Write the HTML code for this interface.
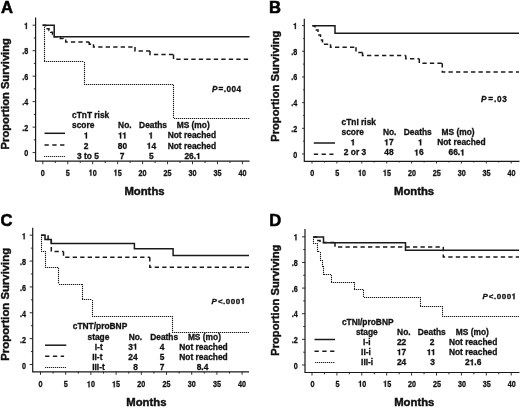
<!DOCTYPE html>
<html><head><meta charset="utf-8"><style>
html,body{margin:0;padding:0;background:#fff;}
svg{display:block;will-change:transform;}
text{font-family:"Liberation Sans", sans-serif;fill:#111;stroke:#111;stroke-width:0.3px;}
.one{fill:transparent;stroke:none;}
.g1{fill:#111;stroke:#111;stroke-width:0.3px;}
</style></head><body>
<svg width="520" height="408" viewBox="0 0 520 408">
<rect width="520" height="408" fill="#fff"/>
<text x="1" y="12.8" font-size="16.6" font-weight="bold" style="stroke-width:0.55px;fill:#000;stroke:#000">A</text>
<path d="M35.6,17.5V161.2H249.5" fill="none" stroke="#1a1a1a" stroke-width="1.2"/>
<path d="M32.6,152.6H35.6M33.8,139.86H35.6M32.6,127.12H35.6M33.8,114.38H35.6M32.6,101.64H35.6M33.8,88.9H35.6M32.6,76.16H35.6M33.8,63.42H35.6M32.6,50.68H35.6M33.8,37.94H35.6M32.6,25.2H35.6M42.8,161.2V164.2M55.27,161.2V163M67.75,161.2V164.2M80.22,161.2V163M92.7,161.2V164.2M105.17,161.2V163M117.65,161.2V164.2M130.12,161.2V163M142.6,161.2V164.2M155.07,161.2V163M167.55,161.2V164.2M180.02,161.2V163M192.5,161.2V164.2M204.98,161.2V163M217.45,161.2V164.2M229.93,161.2V163M242.4,161.2V164.2" fill="none" stroke="#1a1a1a" stroke-width="0.9"/>
<text transform="translate(28.2,156.3) scale(0.84,1)" font-size="8.6" font-weight="bold" text-anchor="end">0</text>
<text transform="translate(28.2,130.82) scale(0.84,1)" font-size="8.6" font-weight="bold" text-anchor="end">.2</text>
<text transform="translate(28.2,105.34) scale(0.84,1)" font-size="8.6" font-weight="bold" text-anchor="end">.4</text>
<text transform="translate(28.2,79.86) scale(0.84,1)" font-size="8.6" font-weight="bold" text-anchor="end">.6</text>
<text transform="translate(28.2,54.38) scale(0.84,1)" font-size="8.6" font-weight="bold" text-anchor="end">.8</text>
<text transform="translate(28.2,28.9) scale(0.84,1)" font-size="8.6" font-weight="bold" text-anchor="end"><tspan class="one">1</tspan></text>
<text transform="translate(42.8,175.7) scale(0.84,1)" font-size="8.6" font-weight="bold" text-anchor="middle">0</text>
<text transform="translate(67.75,175.7) scale(0.84,1)" font-size="8.6" font-weight="bold" text-anchor="middle">5</text>
<text transform="translate(92.7,175.7) scale(0.84,1)" font-size="8.6" font-weight="bold" text-anchor="middle"><tspan class="one">1</tspan>0</text>
<text transform="translate(117.65,175.7) scale(0.84,1)" font-size="8.6" font-weight="bold" text-anchor="middle"><tspan class="one">1</tspan>5</text>
<text transform="translate(142.6,175.7) scale(0.84,1)" font-size="8.6" font-weight="bold" text-anchor="middle">20</text>
<text transform="translate(167.55,175.7) scale(0.84,1)" font-size="8.6" font-weight="bold" text-anchor="middle">25</text>
<text transform="translate(192.5,175.7) scale(0.84,1)" font-size="8.6" font-weight="bold" text-anchor="middle">30</text>
<text transform="translate(217.45,175.7) scale(0.84,1)" font-size="8.6" font-weight="bold" text-anchor="middle">35</text>
<text transform="translate(242.4,175.7) scale(0.84,1)" font-size="8.6" font-weight="bold" text-anchor="middle">40</text>
<text x="144.5" y="194.6" font-size="11.3" font-weight="bold" text-anchor="middle" style="stroke-width:0.45px">Months</text>
<text transform="translate(9,93.75) rotate(-90)" font-size="11.2" font-weight="bold" text-anchor="middle" style="stroke-width:0.4px">Proportion Surviving</text>
<path d="M42.6,25.2H54.2V36.8H249.5V36.8" fill="none" stroke="#1a1a1a" stroke-width="1.5"/>
<path d="M42.6,25.2H45.5V27H47.2V28.7H49V30.5H50.7V32.3H52.5V34.5H54.2V36.8H57.5V37.7H60.3V38.5H63V40.2H65.7V41.9H89.2M89.2,41.9V44.3H93.5M93.5,44.3V47.1H135M135,47.1V51H150M150,51V54.6H173.5M173.5,54.6V59.3H250M250,59.3V59.3" fill="none" stroke="#1a1a1a" stroke-width="1.5" stroke-dasharray="4.3 3.2"/>
<path d="M44.5,25V44M44.5,44V62M44,61.5H84M84.5,62V85M84,84.5H174M173.5,85V118M174,118.5H250" fill="none" stroke="#c4c4c4" stroke-width="1"/>
<path d="M44.5,25V44M44.5,44V62M44,61.5H84M84.5,62V85M84,84.5H174M173.5,85V118M174,118.5H250" fill="none" stroke="#1a1a1a" stroke-width="1.1" stroke-dasharray="1 1"/>
<path d="M44.5,133.3H65" stroke="#1a1a1a" stroke-width="1.5"/>
<path d="M44.5,144.9H64.5" stroke="#1a1a1a" stroke-width="1.5" stroke-dasharray="4.3 3.5"/>
<path d="M44,156.5H65" stroke="#c4c4c4" stroke-width="1"/>
<path d="M44,156.5H65" stroke="#222" stroke-width="1.1" stroke-dasharray="1 1"/>
<text x="72" y="117.8" font-size="8.4" font-weight="bold" text-anchor="start">cTnT risk</text>
<text x="72" y="128.1" font-size="8.4" font-weight="bold" text-anchor="start">score</text>
<text x="118.1" y="128.1" font-size="8.4" font-weight="bold" text-anchor="start">No.</text>
<text x="139.1" y="128.1" font-size="8.4" font-weight="bold" text-anchor="start">Deaths</text>
<text x="176.7" y="128.1" font-size="8.4" font-weight="bold" text-anchor="start">MS (mo)</text>
<text x="86.2" y="138.4" font-size="8.4" font-weight="bold" text-anchor="middle"><tspan class="one">1</tspan></text>
<text x="122.5" y="138.4" font-size="8.4" font-weight="bold" text-anchor="middle"><tspan class="one">1</tspan><tspan class="one">1</tspan></text>
<text x="151" y="138.4" font-size="8.4" font-weight="bold" text-anchor="middle"><tspan class="one">1</tspan></text>
<text x="167.7" y="138.4" font-size="8.4" font-weight="bold" text-anchor="start">Not reached</text>
<text x="86.2" y="148.7" font-size="8.4" font-weight="bold" text-anchor="middle">2</text>
<text x="122.5" y="148.7" font-size="8.4" font-weight="bold" text-anchor="middle">80</text>
<text x="151.4" y="148.7" font-size="8.4" font-weight="bold" text-anchor="middle"><tspan class="one">1</tspan>4</text>
<text x="167.7" y="148.7" font-size="8.4" font-weight="bold" text-anchor="start">Not reached</text>
<text x="87.9" y="159" font-size="8.4" font-weight="bold" text-anchor="middle">3 to 5</text>
<text x="122.2" y="159" font-size="8.4" font-weight="bold" text-anchor="middle">7</text>
<text x="151.3" y="159" font-size="8.4" font-weight="bold" text-anchor="middle">5</text>
<text x="192.6" y="159" font-size="8.4" font-weight="bold" text-anchor="middle">26.<tspan class="one">1</tspan></text>
<text x="212.1" y="92.2" font-size="8.2" font-weight="bold" letter-spacing="0.45"><tspan font-style="italic">P</tspan><tspan dx="0.6">=.004</tspan></text>
<text x="268.9" y="13.2" font-size="16.6" font-weight="bold" style="stroke-width:0.55px;fill:#000;stroke:#000">B</text>
<path d="M304.3,18.7V161.3H519.5" fill="none" stroke="#1a1a1a" stroke-width="1.2"/>
<path d="M302.1,154H304.3M303.1,141.16H304.3M302.1,128.32H304.3M303.1,115.48H304.3M302.1,102.64H304.3M303.1,89.8H304.3M302.1,76.96H304.3M303.1,64.12H304.3M302.1,51.28H304.3M303.1,38.44H304.3M302.1,25.6H304.3M312,161.3V163.5M324.45,161.3V162.5M336.9,161.3V163.5M349.35,161.3V162.5M361.8,161.3V163.5M374.25,161.3V162.5M386.7,161.3V163.5M399.15,161.3V162.5M411.6,161.3V163.5M424.05,161.3V162.5M436.5,161.3V163.5M448.95,161.3V162.5M461.4,161.3V163.5M473.85,161.3V162.5M486.3,161.3V163.5M498.75,161.3V162.5M511.2,161.3V163.5" fill="none" stroke="#1a1a1a" stroke-width="0.9"/>
<text transform="translate(297.2,157.5) scale(0.84,1)" font-size="8.6" font-weight="bold" text-anchor="end">0</text>
<text transform="translate(297.2,131.82) scale(0.84,1)" font-size="8.6" font-weight="bold" text-anchor="end">.2</text>
<text transform="translate(297.2,106.14) scale(0.84,1)" font-size="8.6" font-weight="bold" text-anchor="end">.4</text>
<text transform="translate(297.2,80.46) scale(0.84,1)" font-size="8.6" font-weight="bold" text-anchor="end">.6</text>
<text transform="translate(297.2,54.78) scale(0.84,1)" font-size="8.6" font-weight="bold" text-anchor="end">.8</text>
<text transform="translate(297.2,29.1) scale(0.84,1)" font-size="8.6" font-weight="bold" text-anchor="end"><tspan class="one">1</tspan></text>
<text transform="translate(312.3,175.9) scale(0.84,1)" font-size="8.6" font-weight="bold" text-anchor="middle">0</text>
<text transform="translate(337.2,175.9) scale(0.84,1)" font-size="8.6" font-weight="bold" text-anchor="middle">5</text>
<text transform="translate(362.1,175.9) scale(0.84,1)" font-size="8.6" font-weight="bold" text-anchor="middle"><tspan class="one">1</tspan>0</text>
<text transform="translate(387,175.9) scale(0.84,1)" font-size="8.6" font-weight="bold" text-anchor="middle"><tspan class="one">1</tspan>5</text>
<text transform="translate(411.9,175.9) scale(0.84,1)" font-size="8.6" font-weight="bold" text-anchor="middle">20</text>
<text transform="translate(436.8,175.9) scale(0.84,1)" font-size="8.6" font-weight="bold" text-anchor="middle">25</text>
<text transform="translate(461.7,175.9) scale(0.84,1)" font-size="8.6" font-weight="bold" text-anchor="middle">30</text>
<text transform="translate(486.6,175.9) scale(0.84,1)" font-size="8.6" font-weight="bold" text-anchor="middle">35</text>
<text transform="translate(511.5,175.9) scale(0.84,1)" font-size="8.6" font-weight="bold" text-anchor="middle">40</text>
<text x="414.1" y="194.5" font-size="11.3" font-weight="bold" text-anchor="middle" style="stroke-width:0.45px">Months</text>
<text transform="translate(279,86.2) rotate(-90)" font-size="11.2" font-weight="bold" text-anchor="middle" style="stroke-width:0.4px">Proportion Surviving</text>
<path d="M312.3,25.7H335V33.3H519V33.3" fill="none" stroke="#1a1a1a" stroke-width="1.5"/>
<path d="M312.5,25.7H315V30H318V35H320.5V40H322.5V44.3H330.5M330.5,44.3V47.3H356M356,47.3V52.5H362.5M362.5,52.5V55.5H405.8M405.8,55.5V58.8H419.3M419.3,58.8V63.2H442.3M442.3,63.2V72H519M519,72V72" fill="none" stroke="#1a1a1a" stroke-width="1.5" stroke-dasharray="4.3 3.2"/>
<path d="M313.8,143H335" stroke="#1a1a1a" stroke-width="1.5"/>
<path d="M313.8,154.3H333.5" stroke="#1a1a1a" stroke-width="1.5" stroke-dasharray="4.3 3.5"/>
<text x="341.5" y="125" font-size="8.4" font-weight="bold" text-anchor="start">cTnI risk</text>
<text x="341.5" y="135.15" font-size="8.4" font-weight="bold" text-anchor="start">score</text>
<text x="382.9" y="135.15" font-size="8.4" font-weight="bold" text-anchor="start">No.</text>
<text x="403.8" y="135.15" font-size="8.4" font-weight="bold" text-anchor="start">Deaths</text>
<text x="441.5" y="135.15" font-size="8.4" font-weight="bold" text-anchor="start">MS (mo)</text>
<text x="353" y="145.3" font-size="8.4" font-weight="bold" text-anchor="middle"><tspan class="one">1</tspan></text>
<text x="388.9" y="145.3" font-size="8.4" font-weight="bold" text-anchor="middle"><tspan class="one">1</tspan>7</text>
<text x="420.4" y="145.3" font-size="8.4" font-weight="bold" text-anchor="middle"><tspan class="one">1</tspan></text>
<text x="437.2" y="145.3" font-size="8.4" font-weight="bold" text-anchor="start">Not reached</text>
<text x="355" y="155.45" font-size="8.4" font-weight="bold" text-anchor="middle">2 or 3</text>
<text x="388.9" y="155.45" font-size="8.4" font-weight="bold" text-anchor="middle">48</text>
<text x="418.9" y="155.45" font-size="8.4" font-weight="bold" text-anchor="middle"><tspan class="one">1</tspan>6</text>
<text x="456.7" y="155.45" font-size="8.4" font-weight="bold" text-anchor="middle">66.<tspan class="one">1</tspan></text>
<text x="481.1" y="102" font-size="8.2" font-weight="bold" letter-spacing="0.8"><tspan font-style="italic">P</tspan><tspan dx="1.0">=.03</tspan></text>
<text x="0.5" y="225.9" font-size="16.6" font-weight="bold" style="stroke-width:0.55px;fill:#000;stroke:#000">C</text>
<path d="M32.7,227.7V371.8H249" fill="none" stroke="#1a1a1a" stroke-width="1.2"/>
<path d="M29.7,364.5H32.7M30.9,351.57H32.7M29.7,338.64H32.7M30.9,325.71H32.7M29.7,312.78H32.7M30.9,299.85H32.7M29.7,286.92H32.7M30.9,273.99H32.7M29.7,261.06H32.7M30.9,248.13H32.7M29.7,235.2H32.7M40.5,371.8V374.8M53.1,371.8V373.6M65.7,371.8V374.8M78.3,371.8V373.6M90.9,371.8V374.8M103.5,371.8V373.6M116.1,371.8V374.8M128.7,371.8V373.6M141.3,371.8V374.8M153.9,371.8V373.6M166.5,371.8V374.8M179.1,371.8V373.6M191.7,371.8V374.8M204.3,371.8V373.6M216.9,371.8V374.8M229.5,371.8V373.6M242.1,371.8V374.8" fill="none" stroke="#1a1a1a" stroke-width="0.9"/>
<text transform="translate(26,368.6) scale(0.84,1)" font-size="8.6" font-weight="bold" text-anchor="end">0</text>
<text transform="translate(26,342.74) scale(0.84,1)" font-size="8.6" font-weight="bold" text-anchor="end">.2</text>
<text transform="translate(26,316.88) scale(0.84,1)" font-size="8.6" font-weight="bold" text-anchor="end">.4</text>
<text transform="translate(26,291.02) scale(0.84,1)" font-size="8.6" font-weight="bold" text-anchor="end">.6</text>
<text transform="translate(26,265.16) scale(0.84,1)" font-size="8.6" font-weight="bold" text-anchor="end">.8</text>
<text transform="translate(26,239.3) scale(0.84,1)" font-size="8.6" font-weight="bold" text-anchor="end"><tspan class="one">1</tspan></text>
<text transform="translate(40.5,387.3) scale(0.84,1)" font-size="8.6" font-weight="bold" text-anchor="middle">0</text>
<text transform="translate(65.7,387.3) scale(0.84,1)" font-size="8.6" font-weight="bold" text-anchor="middle">5</text>
<text transform="translate(90.9,387.3) scale(0.84,1)" font-size="8.6" font-weight="bold" text-anchor="middle"><tspan class="one">1</tspan>0</text>
<text transform="translate(116.1,387.3) scale(0.84,1)" font-size="8.6" font-weight="bold" text-anchor="middle"><tspan class="one">1</tspan>5</text>
<text transform="translate(141.3,387.3) scale(0.84,1)" font-size="8.6" font-weight="bold" text-anchor="middle">20</text>
<text transform="translate(166.5,387.3) scale(0.84,1)" font-size="8.6" font-weight="bold" text-anchor="middle">25</text>
<text transform="translate(191.7,387.3) scale(0.84,1)" font-size="8.6" font-weight="bold" text-anchor="middle">30</text>
<text transform="translate(216.9,387.3) scale(0.84,1)" font-size="8.6" font-weight="bold" text-anchor="middle">35</text>
<text transform="translate(242.1,387.3) scale(0.84,1)" font-size="8.6" font-weight="bold" text-anchor="middle">40</text>
<text x="146.4" y="406.1" font-size="11.3" font-weight="bold" text-anchor="middle" style="stroke-width:0.45px">Months</text>
<text transform="translate(9.2,304.3) rotate(-90)" font-size="11.35" font-weight="bold" text-anchor="middle" style="stroke-width:0.4px">Proportion Surviving</text>
<path d="M41,235.3H45V239.4H51.3V243.4H134.4V248.8H173.1V255.4H249V255.4" fill="none" stroke="#1a1a1a" stroke-width="1.5"/>
<path d="M41,235.3H48.1M48.1,235.3V239.4H51.3V251.4H63.5M63.5,251.4V257.2H149.8M149.8,257.2V267.3H249M249,267.3V267.3" fill="none" stroke="#1a1a1a" stroke-width="1.5" stroke-dasharray="4.3 3.2"/>
<path d="M41.5,235V251M41,251.5H45M45.5,251V268M45,267.5H59M58.5,268V284M59,284.5H82M82.5,284V300M82,299.5H92M92.5,300V316M92,316.5H172M172.5,316V332M172,332.5H249" fill="none" stroke="#c4c4c4" stroke-width="1"/>
<path d="M41.5,235V251M41,251.5H45M45.5,251V268M45,267.5H59M58.5,268V284M59,284.5H82M82.5,284V300M82,299.5H92M92.5,300V316M92,316.5H172M172.5,316V332M172,332.5H249" fill="none" stroke="#1a1a1a" stroke-width="1.1" stroke-dasharray="1 1"/>
<path d="M45,345.2H66.3" stroke="#1a1a1a" stroke-width="1.5"/>
<path d="M45.1,356.3H64.1" stroke="#1a1a1a" stroke-width="1.5" stroke-dasharray="4.3 3.5"/>
<path d="M45,367.5H66" stroke="#c4c4c4" stroke-width="1"/>
<path d="M45,367.5H66" stroke="#222" stroke-width="1.1" stroke-dasharray="1 1"/>
<text x="72.8" y="329.4" font-size="8.4" font-weight="bold" text-anchor="start">cTNT/proBNP</text>
<text x="87.5" y="339.5" font-size="8.4" font-weight="bold" text-anchor="start">stage</text>
<text x="128.7" y="339.5" font-size="8.4" font-weight="bold" text-anchor="start">No.</text>
<text x="150.2" y="339.5" font-size="8.4" font-weight="bold" text-anchor="start">Deaths</text>
<text x="187.9" y="339.5" font-size="8.4" font-weight="bold" text-anchor="start">MS (mo)</text>
<text x="94.8" y="349.6" font-size="8.4" font-weight="bold" text-anchor="start">I-t</text>
<text x="133" y="349.6" font-size="8.4" font-weight="bold" text-anchor="middle">3<tspan class="one">1</tspan></text>
<text x="162" y="349.6" font-size="8.4" font-weight="bold" text-anchor="middle">4</text>
<text x="179.3" y="349.6" font-size="8.4" font-weight="bold" text-anchor="start">Not reached</text>
<text x="92.2" y="359.7" font-size="8.4" font-weight="bold" text-anchor="start">II-t</text>
<text x="133" y="359.7" font-size="8.4" font-weight="bold" text-anchor="middle">24</text>
<text x="162" y="359.7" font-size="8.4" font-weight="bold" text-anchor="middle">5</text>
<text x="179.3" y="359.7" font-size="8.4" font-weight="bold" text-anchor="start">Not reached</text>
<text x="92.2" y="369.8" font-size="8.4" font-weight="bold" text-anchor="start">III-t</text>
<text x="135.6" y="369.8" font-size="8.4" font-weight="bold" text-anchor="middle">8</text>
<text x="162" y="369.8" font-size="8.4" font-weight="bold" text-anchor="middle">7</text>
<text x="202.5" y="369.8" font-size="8.4" font-weight="bold" text-anchor="middle">8.4</text>
<text x="211.5" y="303.8" font-size="8.0" font-weight="bold" letter-spacing="0.5"><tspan font-style="italic">P</tspan><tspan dx="0.6">&lt;.000<tspan class="one">1</tspan></tspan></text>
<text x="269.2" y="225.7" font-size="16.6" font-weight="bold" style="stroke-width:0.55px;fill:#000;stroke:#000">D</text>
<path d="M305,229V372.5H519.5" fill="none" stroke="#1a1a1a" stroke-width="1.2"/>
<path d="M302,365H305M303.2,352.18H305M302,339.36H305M303.2,326.54H305M302,313.72H305M303.2,300.9H305M302,288.08H305M303.2,275.26H305M302,262.44H305M303.2,249.62H305M302,236.8H305M312,372.5V375.5M324.45,372.5V374.3M336.9,372.5V375.5M349.35,372.5V374.3M361.8,372.5V375.5M374.25,372.5V374.3M386.7,372.5V375.5M399.15,372.5V374.3M411.6,372.5V375.5M424.05,372.5V374.3M436.5,372.5V375.5M448.95,372.5V374.3M461.4,372.5V375.5M473.85,372.5V374.3M486.3,372.5V375.5M498.75,372.5V374.3M511.2,372.5V375.5" fill="none" stroke="#1a1a1a" stroke-width="0.9"/>
<text transform="translate(297.8,368.5) scale(0.84,1)" font-size="8.6" font-weight="bold" text-anchor="end">0</text>
<text transform="translate(297.8,342.86) scale(0.84,1)" font-size="8.6" font-weight="bold" text-anchor="end">.2</text>
<text transform="translate(297.8,317.22) scale(0.84,1)" font-size="8.6" font-weight="bold" text-anchor="end">.4</text>
<text transform="translate(297.8,291.58) scale(0.84,1)" font-size="8.6" font-weight="bold" text-anchor="end">.6</text>
<text transform="translate(297.8,265.94) scale(0.84,1)" font-size="8.6" font-weight="bold" text-anchor="end">.8</text>
<text transform="translate(297.8,240.3) scale(0.84,1)" font-size="8.6" font-weight="bold" text-anchor="end"><tspan class="one">1</tspan></text>
<text transform="translate(312.5,386.8) scale(0.84,1)" font-size="8.6" font-weight="bold" text-anchor="middle">0</text>
<text transform="translate(337.4,386.8) scale(0.84,1)" font-size="8.6" font-weight="bold" text-anchor="middle">5</text>
<text transform="translate(362.3,386.8) scale(0.84,1)" font-size="8.6" font-weight="bold" text-anchor="middle"><tspan class="one">1</tspan>0</text>
<text transform="translate(387.2,386.8) scale(0.84,1)" font-size="8.6" font-weight="bold" text-anchor="middle"><tspan class="one">1</tspan>5</text>
<text transform="translate(412.1,386.8) scale(0.84,1)" font-size="8.6" font-weight="bold" text-anchor="middle">20</text>
<text transform="translate(437,386.8) scale(0.84,1)" font-size="8.6" font-weight="bold" text-anchor="middle">25</text>
<text transform="translate(461.9,386.8) scale(0.84,1)" font-size="8.6" font-weight="bold" text-anchor="middle">30</text>
<text transform="translate(486.8,386.8) scale(0.84,1)" font-size="8.6" font-weight="bold" text-anchor="middle">35</text>
<text transform="translate(511.7,386.8) scale(0.84,1)" font-size="8.6" font-weight="bold" text-anchor="middle">40</text>
<text x="414.3" y="405.6" font-size="11.3" font-weight="bold" text-anchor="middle" style="stroke-width:0.45px">Months</text>
<text transform="translate(279.1,300.2) rotate(-90)" font-size="11.2" font-weight="bold" text-anchor="middle" style="stroke-width:0.4px">Proportion Surviving</text>
<path d="M313.2,237H323.5V242.7H405.5V250.3H519V250.3" fill="none" stroke="#1a1a1a" stroke-width="1.5"/>
<path d="M313.2,237H316.5V240.6H320V242.5H335M335,242.5V247H443.3M443.3,247V257H519M519,257V257" fill="none" stroke="#1a1a1a" stroke-width="1.5" stroke-dasharray="4.3 3.2"/>
<path d="M313.5,237V243M313,243.5H318M317.5,243V252M318,251.5H320M320.5,252V260M320,260.5H322M322.5,260V266M322,266.5H324M323.5,266V275M324,274.5H331M331.5,275V282M331,282.5H354M354.5,282V290M354,289.5H364M363.5,290V297M364,297.5H420M420.5,297V306M420,306.5H442M442.5,306V316M442,316.5H519" fill="none" stroke="#c4c4c4" stroke-width="1"/>
<path d="M313.5,237V243M313,243.5H318M317.5,243V252M318,251.5H320M320.5,252V260M320,260.5H322M322.5,260V266M322,266.5H324M323.5,266V275M324,274.5H331M331.5,275V282M331,282.5H354M354.5,282V290M354,289.5H364M363.5,290V297M364,297.5H420M420.5,297V306M420,306.5H442M442.5,306V316M442,316.5H519" fill="none" stroke="#1a1a1a" stroke-width="1.1" stroke-dasharray="1 1"/>
<path d="M314.5,339.5H335" stroke="#1a1a1a" stroke-width="1.5"/>
<path d="M314.5,351.2H335" stroke="#1a1a1a" stroke-width="1.5" stroke-dasharray="4.3 3.5"/>
<path d="M315,362.5H335" stroke="#c4c4c4" stroke-width="1"/>
<path d="M315,362.5H335" stroke="#222" stroke-width="1.1" stroke-dasharray="1 1"/>
<text x="341.9" y="324.5" font-size="8.4" font-weight="bold" text-anchor="start">cTNI/proBNP</text>
<text x="355.9" y="334.7" font-size="8.4" font-weight="bold" text-anchor="start">stage</text>
<text x="397.1" y="334.7" font-size="8.4" font-weight="bold" text-anchor="start">No.</text>
<text x="417.8" y="334.7" font-size="8.4" font-weight="bold" text-anchor="start">Deaths</text>
<text x="455.8" y="334.7" font-size="8.4" font-weight="bold" text-anchor="start">MS (mo)</text>
<text x="363.1" y="344.9" font-size="8.4" font-weight="bold" text-anchor="start">I-i</text>
<text x="401.6" y="344.9" font-size="8.4" font-weight="bold" text-anchor="middle">22</text>
<text x="432.1" y="344.9" font-size="8.4" font-weight="bold" text-anchor="middle">2</text>
<text x="448.9" y="344.9" font-size="8.4" font-weight="bold" text-anchor="start">Not reached</text>
<text x="361.1" y="355.1" font-size="8.4" font-weight="bold" text-anchor="start">II-i</text>
<text x="401.6" y="355.1" font-size="8.4" font-weight="bold" text-anchor="middle"><tspan class="one">1</tspan>7</text>
<text x="431.2" y="355.1" font-size="8.4" font-weight="bold" text-anchor="middle"><tspan class="one">1</tspan><tspan class="one">1</tspan></text>
<text x="448.9" y="355.1" font-size="8.4" font-weight="bold" text-anchor="start">Not reached</text>
<text x="361.1" y="365.3" font-size="8.4" font-weight="bold" text-anchor="start">III-i</text>
<text x="401.6" y="365.3" font-size="8.4" font-weight="bold" text-anchor="middle">24</text>
<text x="432.5" y="365.3" font-size="8.4" font-weight="bold" text-anchor="middle">3</text>
<text x="473.2" y="365.3" font-size="8.4" font-weight="bold" text-anchor="middle">2<tspan class="one">1</tspan>.6</text>
<text x="482.4" y="299.2" font-size="8.0" font-weight="bold" letter-spacing="0.5"><tspan font-style="italic">P</tspan><tspan dx="0.6">&lt;.000<tspan class="one">1</tspan></tspan></text>
<path class="g1" transform="translate(28.2,28.9) scale(0.84,1)" d="M-1.57,0.00 L-1.57,-6.11 L-2.54,-6.11 L-2.64,-5.68 L-2.94,-5.35 L-3.41,-5.16 L-3.76,-5.07 L-4.25,-5.04 L-4.25,-4.21 L-2.84,-4.21 L-2.84,0.00Z"/>
<path class="g1" transform="translate(92.7,175.7) scale(0.84,1)" d="M-1.57,0.00 L-1.57,-6.11 L-2.54,-6.11 L-2.64,-5.68 L-2.94,-5.35 L-3.41,-5.16 L-3.76,-5.07 L-4.25,-5.04 L-4.25,-4.21 L-2.84,-4.21 L-2.84,0.00Z"/>
<path class="g1" transform="translate(117.65,175.7) scale(0.84,1)" d="M-1.57,0.00 L-1.57,-6.11 L-2.54,-6.11 L-2.64,-5.68 L-2.94,-5.35 L-3.41,-5.16 L-3.76,-5.07 L-4.25,-5.04 L-4.25,-4.21 L-2.84,-4.21 L-2.84,0.00Z"/>
<path class="g1" d="M87.01,138.40 L87.01,132.44 L86.06,132.44 L85.96,132.86 L85.67,133.18 L85.21,133.36 L84.87,133.44 L84.39,133.48 L84.39,134.28 L85.76,134.28 L85.76,138.40Z M121.20,138.40 L121.20,132.44 L120.26,132.44 L120.16,132.86 L119.87,133.18 L119.41,133.36 L119.07,133.44 L118.59,133.48 L118.59,134.28 L119.96,134.28 L119.96,138.40Z M125.41,138.40 L125.41,132.44 L124.47,132.44 L124.37,132.86 L124.07,133.18 L123.61,133.36 L123.27,133.44 L122.79,133.48 L122.79,134.28 L124.16,134.28 L124.16,138.40Z M151.81,138.40 L151.81,132.44 L150.86,132.44 L150.76,132.86 L150.47,133.18 L150.01,133.36 L149.67,133.44 L149.19,133.48 L149.19,134.28 L150.56,134.28 L150.56,138.40Z M149.87,148.70 L149.87,142.74 L148.93,142.74 L148.83,143.16 L148.53,143.48 L148.07,143.66 L147.74,143.74 L147.26,143.78 L147.26,144.58 L148.63,144.58 L148.63,148.70Z M199.23,159.00 L199.23,153.04 L198.29,153.04 L198.19,153.46 L197.90,153.78 L197.44,153.96 L197.10,154.04 L196.62,154.08 L196.62,154.88 L197.99,154.88 L197.99,159.00Z M353.81,145.30 L353.81,139.34 L352.86,139.34 L352.76,139.76 L352.47,140.08 L352.01,140.26 L351.67,140.34 L351.19,140.38 L351.19,141.18 L352.56,141.18 L352.56,145.30Z M387.37,145.30 L387.37,139.34 L386.43,139.34 L386.33,139.76 L386.03,140.08 L385.57,140.26 L385.24,140.34 L384.76,140.38 L384.76,141.18 L386.13,141.18 L386.13,145.30Z M421.21,145.30 L421.21,139.34 L420.26,139.34 L420.16,139.76 L419.87,140.08 L419.41,140.26 L419.07,140.34 L418.59,140.38 L418.59,141.18 L419.96,141.18 L419.96,145.30Z M417.37,155.45 L417.37,149.49 L416.43,149.49 L416.33,149.91 L416.03,150.23 L415.57,150.41 L415.24,150.49 L414.76,150.53 L414.76,151.33 L416.13,151.33 L416.13,155.45Z M463.33,155.45 L463.33,149.49 L462.39,149.49 L462.29,149.91 L462.00,150.23 L461.54,150.41 L461.20,150.49 L460.72,150.53 L460.72,151.33 L462.09,151.33 L462.09,155.45Z M136.14,349.60 L136.14,343.64 L135.20,343.64 L135.10,344.06 L134.81,344.38 L134.34,344.56 L134.01,344.64 L133.53,344.68 L133.53,345.48 L134.90,345.48 L134.90,349.60Z M243.69,303.80 L243.69,298.12 L242.79,298.12 L242.69,298.52 L242.41,298.82 L241.97,299.00 L241.65,299.08 L241.20,299.11 L241.20,299.88 L242.50,299.88 L242.50,303.80Z M400.07,355.10 L400.07,349.14 L399.13,349.14 L399.03,349.56 L398.73,349.88 L398.27,350.06 L397.94,350.14 L397.46,350.18 L397.46,350.98 L398.83,350.98 L398.83,355.10Z M429.90,355.10 L429.90,349.14 L428.96,349.14 L428.86,349.56 L428.57,349.88 L428.11,350.06 L427.77,350.14 L427.29,350.18 L427.29,350.98 L428.66,350.98 L428.66,355.10Z M434.11,355.10 L434.11,349.14 L433.17,349.14 L433.07,349.56 L432.77,349.88 L432.31,350.06 L431.97,350.14 L431.49,350.18 L431.49,350.98 L432.86,350.98 L432.86,355.10Z M472.84,365.30 L472.84,359.34 L471.90,359.34 L471.80,359.76 L471.51,360.08 L471.04,360.26 L470.71,360.34 L470.23,360.38 L470.23,361.18 L471.60,361.18 L471.60,365.30Z M514.59,299.20 L514.59,293.52 L513.69,293.52 L513.59,293.92 L513.31,294.22 L512.87,294.40 L512.55,294.48 L512.10,294.51 L512.10,295.28 L513.40,295.28 L513.40,299.20Z"/>
<path class="g1" transform="translate(297.2,29.1) scale(0.84,1)" d="M-1.57,0.00 L-1.57,-6.11 L-2.54,-6.11 L-2.64,-5.68 L-2.94,-5.35 L-3.41,-5.16 L-3.76,-5.07 L-4.25,-5.04 L-4.25,-4.21 L-2.84,-4.21 L-2.84,0.00Z"/>
<path class="g1" transform="translate(362.1,175.9) scale(0.84,1)" d="M-1.57,0.00 L-1.57,-6.11 L-2.54,-6.11 L-2.64,-5.68 L-2.94,-5.35 L-3.41,-5.16 L-3.76,-5.07 L-4.25,-5.04 L-4.25,-4.21 L-2.84,-4.21 L-2.84,0.00Z"/>
<path class="g1" transform="translate(387,175.9) scale(0.84,1)" d="M-1.57,0.00 L-1.57,-6.11 L-2.54,-6.11 L-2.64,-5.68 L-2.94,-5.35 L-3.41,-5.16 L-3.76,-5.07 L-4.25,-5.04 L-4.25,-4.21 L-2.84,-4.21 L-2.84,0.00Z"/>
<path class="g1" transform="translate(26,239.3) scale(0.84,1)" d="M-1.57,0.00 L-1.57,-6.11 L-2.54,-6.11 L-2.64,-5.68 L-2.94,-5.35 L-3.41,-5.16 L-3.76,-5.07 L-4.25,-5.04 L-4.25,-4.21 L-2.84,-4.21 L-2.84,0.00Z"/>
<path class="g1" transform="translate(90.9,387.3) scale(0.84,1)" d="M-1.57,0.00 L-1.57,-6.11 L-2.54,-6.11 L-2.64,-5.68 L-2.94,-5.35 L-3.41,-5.16 L-3.76,-5.07 L-4.25,-5.04 L-4.25,-4.21 L-2.84,-4.21 L-2.84,0.00Z"/>
<path class="g1" transform="translate(116.1,387.3) scale(0.84,1)" d="M-1.57,0.00 L-1.57,-6.11 L-2.54,-6.11 L-2.64,-5.68 L-2.94,-5.35 L-3.41,-5.16 L-3.76,-5.07 L-4.25,-5.04 L-4.25,-4.21 L-2.84,-4.21 L-2.84,0.00Z"/>
<path class="g1" transform="translate(297.8,240.3) scale(0.84,1)" d="M-1.57,0.00 L-1.57,-6.11 L-2.54,-6.11 L-2.64,-5.68 L-2.94,-5.35 L-3.41,-5.16 L-3.76,-5.07 L-4.25,-5.04 L-4.25,-4.21 L-2.84,-4.21 L-2.84,0.00Z"/>
<path class="g1" transform="translate(362.3,386.8) scale(0.84,1)" d="M-1.57,0.00 L-1.57,-6.11 L-2.54,-6.11 L-2.64,-5.68 L-2.94,-5.35 L-3.41,-5.16 L-3.76,-5.07 L-4.25,-5.04 L-4.25,-4.21 L-2.84,-4.21 L-2.84,0.00Z"/>
<path class="g1" transform="translate(387.2,386.8) scale(0.84,1)" d="M-1.57,0.00 L-1.57,-6.11 L-2.54,-6.11 L-2.64,-5.68 L-2.94,-5.35 L-3.41,-5.16 L-3.76,-5.07 L-4.25,-5.04 L-4.25,-4.21 L-2.84,-4.21 L-2.84,0.00Z"/>
</svg>
</body></html>
